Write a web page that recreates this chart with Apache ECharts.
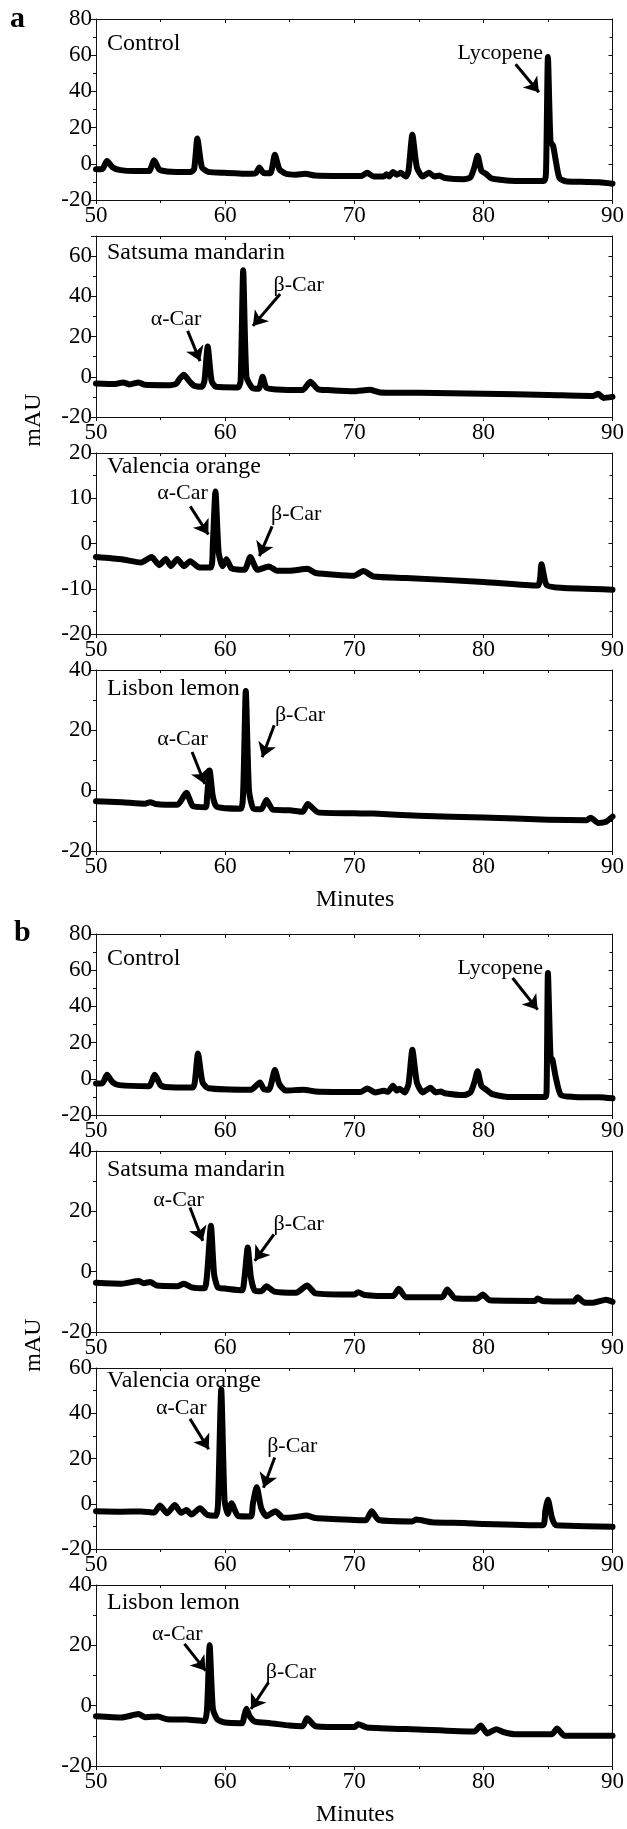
<!DOCTYPE html>
<html>
<head>
<meta charset="utf-8">
<script src="https://cdn.jsdelivr.net/npm/echarts@6/dist/echarts.min.js"></script>
<style>
  html, body { margin: 0; padding: 0; background: #fff; }
  #chart { width: 627px; height: 1829px; }
</style>
</head>
<body>
<div id="chart"></div>
<script>
// chromatogram traces: [minutes, mAU]
const aControl = [[50,-3],[50.5,-2.8],[50.85,1.5],[51.3,-2],[51.9,-3.5],[53,-4],[54.1,-4],[54.5,2],[54.9,-3.2],[55.5,-4.2],[57.3,-4.5],[57.6,-3],[57.85,14],[58.2,-2],[58.7,-4.5],[60,-5],[62,-5.5],[62.4,-5],[62.65,-2],[62.95,-5],[63.5,-5.2],[63.85,5],[64.2,-3],[64.7,-5.5],[65.5,-6],[66.2,-5.5],[67,-6.5],[70.5,-6.8],[71,-5],[71.5,-7],[72.3,-7],[72.5,-5.8],[72.7,-7],[73,-4.5],[73.3,-6],[73.6,-5],[74,-7],[74.2,-4],[74.5,16],[74.85,-2],[75.3,-7],[75.8,-5],[76.2,-7],[76.6,-6.5],[77,-7.8],[78.5,-8.5],[79,-7.5],[79.3,-2],[79.55,4.5],[79.85,-4],[80.2,-5.5],[80.6,-8],[81.5,-9],[82.5,-9.5],[84.7,-9.5],[84.85,-5],[85,59],[85.2,12],[85.4,10],[85.6,2],[85.9,-8],[86.5,-9.8],[88,-10],[89,-10.2],[90,-11]];
const aSatsuma = [[50,-3.3],[51.5,-3.6],[52.1,-2.8],[52.6,-3.8],[53.3,-2.8],[53.8,-4],[55.5,-4.2],[56.2,-3.5],[56.5,-0.8],[56.8,1],[57.2,-2],[57.6,-4.5],[58.2,-5],[58.4,-2],[58.65,15],[58.95,-2],[59.3,-5],[61,-5.3],[61.2,-2],[61.4,53],[61.65,0],[62.1,-5.5],[62.6,-6],[62.9,0],[63.2,-5.5],[64,-6.3],[66,-6.6],[66.6,-2.5],[67.2,-6.2],[68,-6.6],[70,-7.2],[71.2,-6.5],[72,-7.8],[75,-8],[80,-8.5],[85,-9],[88.5,-9.5],[88.9,-8.5],[89.3,-10.5],[90,-10]];
const aValencia = [[50,-3],[52,-3.5],[53.5,-4.2],[54.3,-3],[54.9,-4.8],[55.4,-3.4],[55.8,-5],[56.3,-3.4],[56.8,-5],[57.3,-3.9],[58,-5.3],[58.9,-5.3],[59.05,0],[59.25,11.5],[59.5,-2],[59.8,-5],[60.1,-3.5],[60.5,-5.5],[61.5,-5.8],[61.95,-3],[62.5,-5.8],[63.4,-5.1],[64,-6],[65,-6],[66.4,-5.6],[67,-6.5],[70,-7.1],[70.7,-6.1],[71.5,-7.3],[74,-7.6],[80,-8.5],[84.2,-9.3],[84.5,-4.6],[84.9,-9.2],[86,-9.8],[90,-10.2]];
const aLisbon = [[50,-3.5],[52,-3.8],[53.8,-4.3],[54.2,-3.8],[54.6,-4.4],[56.3,-4.7],[57,-0.7],[57.5,-5.1],[58.5,-5.5],[58.6,-2],[58.8,6.7],[59.05,-2],[59.35,-5.3],[61.2,-6],[61.4,0],[61.6,33],[61.85,0],[62.2,-6],[62.8,-6.2],[63.2,-3.1],[63.7,-6.3],[65,-6.5],[66,-7],[66.4,-4.4],[67.2,-7.2],[70,-7.5],[71.5,-7.6],[75,-8.3],[80,-8.9],[85,-9.6],[88,-9.8],[88.3,-9],[88.9,-10.7],[89.5,-10.3],[90,-8.6]];
const bControl = [[50,-2.6],[50.5,-2.5],[50.85,2.2],[51.3,-2],[51.8,-3.5],[54.1,-4.1],[54.55,2.2],[55,-3.5],[55.4,-4.5],[57.5,-4.8],[57.65,-2],[57.9,14],[58.25,-2],[58.7,-5.2],[62,-6],[62.7,-2],[63,-5.8],[63.4,-6],[63.85,4.8],[64.2,-3],[64.7,-6.5],[66.1,-6],[67,-7],[70.5,-7.3],[71,-5.3],[71.6,-7.5],[72.3,-6.6],[72.6,-7.2],[73,-3.8],[73.3,-6.5],[73.5,-5.5],[73.9,-7.5],[74.2,-3],[74.5,16],[74.85,-2],[75.3,-7.5],[75.9,-5],[76.3,-7.5],[76.7,-7],[77,-8],[78.5,-9],[79,-7.5],[79.3,-2],[79.55,4.2],[79.85,-4],[80.2,-5.9],[80.7,-8.5],[82,-10],[84.8,-10],[84.9,-5],[85,58.5],[85.2,12],[85.35,10.5],[85.6,1],[86,-9],[87,-10],[89,-10.2],[90,-10.8]];
const bSatsuma = [[50,-3.7],[52,-4],[53.3,-3.1],[53.7,-3.8],[54.2,-3.4],[54.7,-4.6],[56.3,-4.8],[56.8,-4],[57.4,-5.2],[58.4,-5.5],[58.6,-1],[58.9,15.2],[59.15,-1],[59.45,-5.3],[60,-5.6],[61.3,-6.2],[61.5,-2],[61.75,8],[62,-2],[62.3,-6.3],[62.8,-6.5],[63.2,-4.8],[63.8,-6.6],[65.5,-7],[66.35,-4.6],[67,-7.2],[70,-7.6],[70.3,-6.8],[70.8,-7.7],[73,-8.1],[73.45,-5.7],[74,-8.5],[76.8,-8.5],[77.2,-5.9],[77.8,-8.8],[79.5,-9],[79.95,-7.6],[80.5,-9.5],[84,-9.7],[84.2,-8.9],[84.6,-9.7],[87,-9.9],[87.3,-8.5],[87.8,-10.2],[88.5,-10.3],[89.5,-9.3],[90,-10]];
const bValencia = [[50,-3.3],[52,-3.5],[53.5,-3.4],[54.5,-3.9],[54.95,-0.8],[55.5,-4.2],[56.1,-0.6],[56.6,-4],[57,-2.8],[57.4,-4.8],[58.05,-2],[58.6,-4.9],[59.3,-5.3],[59.45,0],[59.7,50.5],[59.95,2],[60.2,-4.5],[60.5,0.2],[61,-5.4],[62,-5.6],[62.15,0],[62.45,7.3],[62.8,-2],[63.2,-5.5],[63.9,-3.3],[64.5,-6.2],[65.5,-5.8],[66.3,-5.2],[67,-6.3],[70,-7.2],[70.9,-7.3],[71.35,-3.3],[71.9,-7.2],[74.5,-7.8],[74.8,-7],[76,-8.2],[78.5,-8.5],[80,-8.9],[84.6,-9.5],[84.8,-3],[85,1.8],[85.3,-6],[85.6,-9.4],[86,-9.6],[90,-10.2]];
const bLisbon = [[50,-3.5],[52,-3.9],[53.3,-2.8],[53.8,-3.8],[54.8,-3.6],[55.5,-4.5],[57,-4.6],[58.4,-5.1],[58.6,-1],[58.8,20],[59.05,-1],[59.4,-4.6],[60,-5.6],[61.3,-5.8],[61.5,-3],[61.65,-1],[61.9,-3.5],[62.3,-5.3],[63.5,-5.8],[65,-6.6],[66,-6.8],[66.35,-4.2],[67,-6.8],[70,-7.1],[70.3,-6.2],[71,-7.2],[75,-7.9],[79.3,-8.6],[79.8,-6.6],[80.3,-9.2],[81,-7.8],[81.6,-8.8],[82.6,-9.5],[85.3,-9.5],[85.7,-7.6],[86.3,-10],[90,-10]];

const panelNames = ['Control', 'Satsuma mandarin', 'Valencia orange', 'Lisbon lemon',
                    'Control', 'Satsuma mandarin', 'Valencia orange', 'Lisbon lemon'];
const yMins = [-20, -20, -20, -20, -20, -20, -20, -20];
const yMaxs = [80, 70, 20, 40, 80, 40, 60, 40];
const yIntervals = [20, 20, 10, 20, 20, 20, 20, 20];
const xMin = 50, xMax = 90, xInterval = 10;

// peak notes: [text, textX, textY, arrowFromX, arrowFromY, arrowToX, arrowToY]
const aControlNotes = [['Lycopene', 81.3, 61, 82.5, 55, 84.3, 39.5]];
const aSatsumaNotes = [['α-Car', 56.2, 28.7, 57.1, 22.8, 58.06, 7.8], ['β-Car', 65.7, 45.3, 64.26, 41.2, 62.15, 25.3]];
const aValenciaNotes = [['α-Car', 56.7, 11.2, 57.3, 8.2, 58.7, 2.0], ['β-Car', 65.5, 6.4, 63.64, 3.8, 62.65, -2.8]];
const aLisbonNotes = [['α-Car', 56.7, 17.2, 57.44, 12.8, 58.43, 2.2], ['β-Car', 65.8, 25, 63.8, 21.7, 62.87, 11.1]];
const bControlNotes = [['Lycopene', 81.3, 61.2, 82.26, 55.7, 84.2, 38.2]];
const bSatsumaNotes = [['α-Car', 56.4, 23.6, 57.28, 21.3, 58.27, 10.2], ['β-Car', 65.7, 15.8, 63.78, 12.4, 62.29, 3.6]];
const bValenciaNotes = [['α-Car', 56.6, 42.2, 57.28, 37.5, 58.73, 24.1], ['β-Car', 65.2, 25.3, 63.84, 20.4, 62.97, 7.1]];
const bLisbonNotes = [['α-Car', 56.3, 23.8, 56.85, 20.5, 58.49, 11.6], ['β-Car', 65.1, 11.1, 63.36, 7.7, 62.0, -1.1]];

const traces = [aControl, aSatsuma, aValencia, aLisbon, bControl, bSatsuma, bValencia, bLisbon];
const notes = [aControlNotes, aSatsumaNotes, aValenciaNotes, aLisbonNotes,
               bControlNotes, bSatsumaNotes, bValenciaNotes, bLisbonNotes];

const FONT = '"Liberation Serif", "Times New Roman", serif';
const gridTops = [19, 236, 453, 670, 934, 1151, 1368, 1585];
const gridH = 181;
const nameOffsets = [26, 18, 15, 20, 26, 20, 14, 19];
const axisLine = { show: true, onZero: false, lineStyle: { color: '#111', width: 1 } };

const chart = echarts.init(document.getElementById('chart'), null, { renderer: 'canvas' });

const grid = [], xAxis = [], yAxis = [], series = [], title = [];
traces.forEach(function (trace, i) {
    grid.push({ left: 96, right: 14, top: gridTops[i], height: gridH });
    // bottom + top x axes
    xAxis.push({
        gridIndex: i, type: 'value', min: xMin, max: xMax, interval: xInterval,
        axisLine: axisLine,
        axisTick: { show: true, length: 4, lineStyle: { color: '#111' } },
        minorTick: { show: true, splitNumber: 2, length: 3, lineStyle: { color: '#111' } },
        axisLabel: { fontSize: 23, fontFamily: FONT, color: '#000', margin: 4 },
        splitLine: { show: false }
    });
    xAxis.push({
        gridIndex: i, type: 'value', position: 'top', min: xMin, max: xMax, interval: xInterval,
        axisLine: axisLine,
        axisTick: { show: true, inside: true, length: 4, lineStyle: { color: '#111' } },
        minorTick: { show: true, splitNumber: 2, length: 3, lineStyle: { color: '#111' } },
        axisLabel: { show: false },
        splitLine: { show: false }
    });
    const step = yIntervals[i];
    yAxis.push({
        gridIndex: i, type: 'value', min: yMins[i], max: yMaxs[i], interval: step,
        axisLine: axisLine,
        axisTick: { show: true, length: 5, lineStyle: { color: '#111' } },
        minorTick: { show: true, splitNumber: 2, length: 3, lineStyle: { color: '#111' } },
        axisLabel: {
            fontSize: 23, fontFamily: FONT, color: '#000', margin: 4,
            formatter: function (v) { return (v - yMins[i]) % step === 0 ? String(v) : ''; }
        },
        splitLine: { show: false }
    });
    yAxis.push({
        gridIndex: i, type: 'value', position: 'right', min: yMins[i], max: yMaxs[i], interval: step,
        axisLine: axisLine,
        axisTick: { show: true, inside: true, length: 4, lineStyle: { color: '#111' } },
        minorTick: { show: true, splitNumber: 2, length: 3, lineStyle: { color: '#111' } },
        axisLabel: { show: false },
        splitLine: { show: false }
    });

    series.push({
        type: 'line', xAxisIndex: 2 * i, yAxisIndex: 2 * i,
        data: trace, showSymbol: false, smooth: 0.2,
        lineStyle: { color: '#000', width: 6, cap: 'round', join: 'round' },
        z: 3
    });

    const n = notes[i];
    series.push({
        type: 'scatter', xAxisIndex: 2 * i, yAxisIndex: 2 * i,
        symbolSize: 0, itemStyle: { color: '#000', opacity: 1 },
        data: n.map(function (d) { return { name: d[0], value: [d[1], d[2]] }; }),
        label: { show: true, position: 'inside', formatter: '{b}', fontSize: 22, fontFamily: FONT, color: '#000', opacity: 1 },
        markLine: {
            silent: true, symbol: ['none', 'arrow'], symbolSize: 14,
            itemStyle: { color: '#000', opacity: 1 },
            lineStyle: { color: '#000', width: 3, type: 'solid', opacity: 1 },
            label: { show: false },
            data: n.map(function (d) { return [{ coord: [d[3], d[4]] }, { coord: [d[5], d[6]] }]; })
        },
        z: 4
    });

    title.push({
        text: panelNames[i], left: 107, top: gridTops[i] + nameOffsets[i] - 13, padding: 0,
        textStyle: { fontSize: 24, fontFamily: FONT, fontWeight: 'normal', color: '#000' }
    });
});

chart.setOption({
    animation: false,
    backgroundColor: '#fff',
    title: title,
    grid: grid,
    xAxis: xAxis,
    yAxis: yAxis,
    series: series,
    graphic: [
        { type: 'text', left: 10, top: 4, style: { text: 'a', font: 'bold 30px ' + FONT, fill: '#000' } },
        { type: 'text', left: 14, top: 918, style: { text: 'b', font: 'bold 30px ' + FONT, fill: '#000' } },
        { type: 'text', x: 355, y: 900, style: { text: 'Minutes', font: '24px ' + FONT, fill: '#000', align: 'center', verticalAlign: 'middle' } },
        { type: 'text', x: 355, y: 1815, style: { text: 'Minutes', font: '24px ' + FONT, fill: '#000', align: 'center', verticalAlign: 'middle' } },
        { type: 'text', x: 34, y: 420, rotation: Math.PI / 2, style: { text: 'mAU', font: '24px ' + FONT, fill: '#000', align: 'center', verticalAlign: 'middle' } },
        { type: 'text', x: 34, y: 1345, rotation: Math.PI / 2, style: { text: 'mAU', font: '24px ' + FONT, fill: '#000', align: 'center', verticalAlign: 'middle' } }
    ]
});
</script>
</body>
</html>
